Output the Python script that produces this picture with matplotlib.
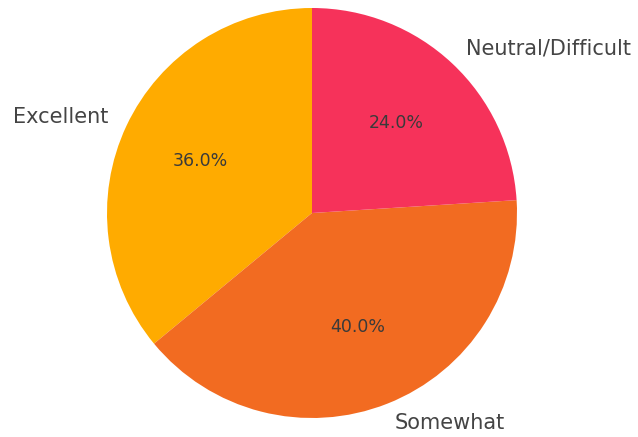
import matplotlib
matplotlib.use("Agg")
import matplotlib.pyplot as plt

labels = ["Excellent", "Somewhat", "Neutral/Difficult"]
shares = [36.0, 40.0, 24.0]
colors = ["#FFAB00", "#F26B21", "#F6325A"]

fig = plt.figure(figsize=(6.38, 4.37), dpi=100)
ax = fig.add_axes([0, 0, 1, 1])

wedges, texts, autotexts = ax.pie(
    shares, labels=labels, colors=colors, startangle=90,
    autopct="%1.1f%%", labeldistance=1.1, pctdistance=0.6,
    textprops={"fontsize": 15, "color": "#444444"},
)
for t in autotexts:
    t.set_fontsize(12.5)
    t.set_color("#3a3a3a")

# place the pie: radius 205 px, centre at (312, 224) px from lower-left
r = 205.0
ax.set_xlim(-312 / r, (638 - 312) / r)
ax.set_ylim(-224 / r, (437 - 224) / r)
ax.set_aspect("auto")
ax.axis("off")

fig.savefig("out.png", dpi=100, facecolor="white")
